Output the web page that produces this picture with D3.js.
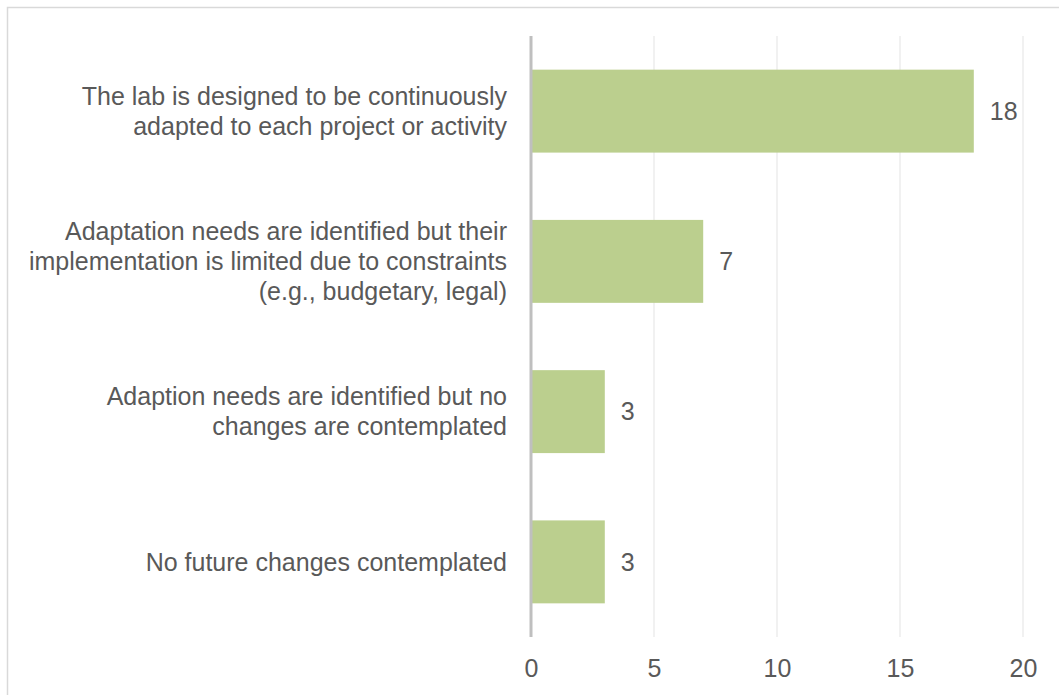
<!DOCTYPE html>
<html><head><meta charset="utf-8">
<script src="https://cdn.jsdelivr.net/npm/d3@7"></script>
<style>body{margin:0;background:#fff}svg{display:block}</style>
</head><body>
<svg id="c" width="1059" height="695"></svg>
<script>
const categories = [
  ["The lab is designed to be continuously", "adapted to each project or activity"],
  ["Adaptation needs are identified but their", "implementation is limited due to constraints", "(e.g., budgetary, legal)"],
  ["Adaption needs are identified but no", "changes are contemplated"],
  ["No future changes contemplated"]
];
const values = [18, 7, 3, 3];
const ticks = [0, 5, 10, 15, 20];

const svg = d3.select("#c");
const font = "'Liberation Sans', Arial, sans-serif";
const fs = 25;
const textColor = "#595959";

svg.append("rect").attr("x", 7.5).attr("y", 7.5).attr("width", 1060).attr("height", 700)
  .attr("fill", "#fff").attr("stroke", "#d9d9d9").attr("stroke-width", 1.5);

const x = d3.scaleLinear().domain([0, 20]).range([531, 1023]);
const y = d3.scaleBand().domain(d3.range(categories.length)).range([36, 637]).paddingInner(0.448).paddingOuter(0.224);

svg.append("g").selectAll("line").data(ticks.slice(1)).join("line")
  .attr("x1", d => x(d)).attr("x2", d => x(d)).attr("y1", 36).attr("y2", 637)
  .attr("stroke", "#ececec").attr("stroke-width", 1.5);

svg.append("g").selectAll("rect").data(values).join("rect")
  .attr("x", x(0)).attr("y", (d, i) => y(i)).attr("width", d => x(d) - x(0)).attr("height", y.bandwidth())
  .attr("fill", "#bbcf8e");

svg.append("line").attr("x1", x(0)).attr("x2", x(0)).attr("y1", 36).attr("y2", 637)
  .attr("stroke", "#bfbfbf").attr("stroke-width", 3);

const xa = svg.append("g").attr("transform", "translate(0,668)").call(d3.axisBottom(x).tickValues(ticks).tickSize(0).tickPadding(0));
xa.select(".domain").remove();
xa.selectAll("text").attr("font-family", font).attr("font-size", fs).attr("fill", textColor).attr("dy", "0.35em").attr("y", 0);

svg.append("g").selectAll("text").data(values).join("text")
  .attr("x", d => x(d) + 16).attr("y", (d, i) => y(i) + y.bandwidth() / 2)
  .attr("dy", "0.35em").attr("font-family", font).attr("font-size", fs).attr("fill", textColor)
  .text(d => d);

const lh = 30;
categories.forEach((lines, i) => {
  const cy = y(i) + y.bandwidth() / 2;
  const t = svg.append("text").attr("font-family", font).attr("font-size", fs).attr("fill", textColor)
    .attr("text-anchor", "end");
  lines.forEach((l, j) => {
    t.append("tspan").attr("x", 507).attr("y", cy + (j - (lines.length - 1) / 2) * lh).attr("dy", "0.35em").text(l);
  });
});
</script>
</body></html>
